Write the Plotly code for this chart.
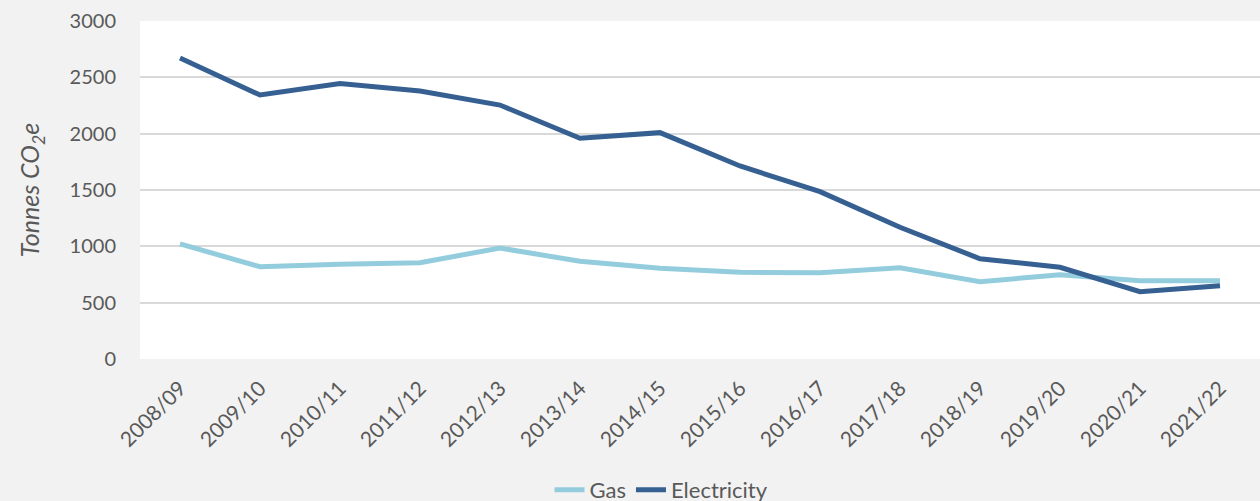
import plotly.graph_objects as go

years = ["2008/09", "2009/10", "2010/11", "2011/12", "2012/13", "2013/14", "2014/15",
         "2015/16", "2016/17", "2017/18", "2018/19", "2019/20", "2020/21", "2021/22"]
gas = [1021, 819, 840, 855, 985, 867, 805, 769, 766, 810, 686, 748, 695, 695]
electricity = [2671, 2343, 2446, 2379, 2254, 1959, 2009, 1713, 1485, 1169, 890, 814, 597, 651]
y_ticks = [0, 500, 1000, 1500, 2000, 2500, 3000]

font_family = "Lato, Carlito, Calibri, sans-serif"
grey_text = "#595959"

fig = go.Figure()
fig.add_trace(go.Scatter(x=years, y=gas, name="Gas", mode="lines",
                         line=dict(color="#93CDDD", width=5)))
fig.add_trace(go.Scatter(x=years, y=electricity, name="Electricity", mode="lines",
                         line=dict(color="#366092", width=5)))

fig.update_layout(
    width=1260, height=501,
    margin=dict(l=140, r=0, t=21, b=142),
    paper_bgcolor="#F2F2F2",
    plot_bgcolor="#FFFFFF",
    font=dict(family=font_family, color=grey_text),
    showlegend=True,
    legend=dict(orientation="h", xref="container", x=0.525, xanchor="center",
                yref="container", y=0.022, yanchor="middle",
                font=dict(size=22, color=grey_text, family=font_family),
                bgcolor="rgba(0,0,0,0)", traceorder="normal"),
    xaxis=dict(type="category", tickangle=-45, showgrid=False, showline=False,
               tickfont=dict(size=21, color=grey_text), range=[-0.5, 13.5],
               ticks="", zeroline=False, ticklabelstandoff=12, automargin=False),
    yaxis=dict(range=[0, 3000], tickvals=y_ticks, showgrid=True, gridcolor="#D9D9D9",
               gridwidth=2, zeroline=False, showline=False, automargin=False,
               tickfont=dict(size=20, color=grey_text), ticklabelstandoff=23,
               title=dict(text="<i>Tonnes CO<sub>2</sub>e</i>", font=dict(size=25, color=grey_text),
                          standoff=22)),
)

fig.write_html(
    "out.html",
    config={"displayModeBar": False},
    post_script="document.body.style.margin='0';document.body.style.background='#F2F2F2';",
)
